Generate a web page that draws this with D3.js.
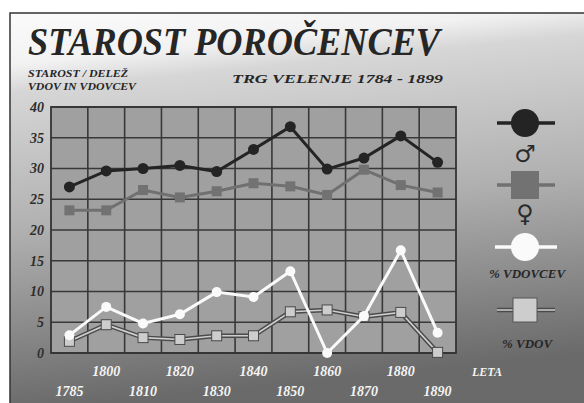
<!DOCTYPE html>
<html>
<head>
<meta charset="utf-8">
<script src="https://cdn.jsdelivr.net/npm/d3@7"></script>
<style>
  html, body { margin: 0; padding: 0; background: #fff; }
  svg { display: block; }
  .ser { font-family: "Liberation Serif", "DejaVu Serif", serif; font-style: italic; font-weight: bold; }
</style>
</head>
<body>
<div id="chart"></div>
<script>
// leta (years) on the x axis
const years = ["1785", "1800", "1810", "1820", "1830", "1840", "1850", "1860", "1870", "1880", "1890"];
// starost - moski
const ageMen = [27, 29.6, 30, 30.5, 29.5, 33.1, 36.8, 29.9, 31.7, 35.3, 31];
// starost - zenske
const ageWomen = [23.2, 23.2, 26.5, 25.3, 26.3, 27.6, 27.1, 25.7, 29.8, 27.3, 26.1];
// % vdovcev
const pctWidowers = [2.9, 7.5, 4.8, 6.3, 9.9, 9.1, 13.3, 0, 6.0, 16.7, 3.3];
// % vdov
const pctWidows = [1.9, 4.6, 2.5, 2.2, 2.8, 2.8, 6.7, 7.0, 5.9, 6.6, 0.1];
const yTicks = [0, 5, 10, 15, 20, 25, 30, 35, 40];

const W = 584, H = 403;

const svg = d3.select("#chart").append("svg")
  .attr("width", W).attr("height", H);

const defs = svg.append("defs");
const bg = defs.append("linearGradient").attr("id", "bg")
  .attr("x1", 0).attr("y1", 0).attr("x2", 0.15).attr("y2", 1);
bg.append("stop").attr("offset", "0").attr("stop-color", "#fbfbfb");
bg.append("stop").attr("offset", "0.13").attr("stop-color", "#f2f2f2");
bg.append("stop").attr("offset", "0.2").attr("stop-color", "#d6d6d6");
bg.append("stop").attr("offset", "0.55").attr("stop-color", "#b0b0b0");
bg.append("stop").attr("offset", "1").attr("stop-color", "#6a6a6a");

// frame
svg.append("rect")
  .attr("x", 10).attr("y", 13).attr("width", W - 10).attr("height", H - 13)
  .attr("fill", "url(#bg)");
svg.append("path")
  .attr("d", `M10,${H} V13 H${W}`)
  .attr("fill", "none").attr("stroke", "#333").attr("stroke-width", 1.5);

// titles
svg.append("text").attr("class", "ser")
  .attr("x", 28).attr("y", 55)
  .attr("textLength", 412).attr("lengthAdjust", "spacingAndGlyphs")
  .attr("font-size", 40)
  .attr("fill", "#262626")
  .text("STAROST POROČENCEV");

svg.append("text").attr("class", "ser")
  .attr("x", 28).attr("y", 77)
  .attr("textLength", 100).attr("lengthAdjust", "spacingAndGlyphs")
  .attr("font-size", 10)
  .attr("fill", "#262626")
  .text("STAROST / DELEŽ");
svg.append("text").attr("class", "ser")
  .attr("x", 28).attr("y", 90)
  .attr("textLength", 108).attr("lengthAdjust", "spacingAndGlyphs")
  .attr("font-size", 10)
  .attr("fill", "#262626")
  .text("VDOV IN VDOVCEV");
svg.append("text").attr("class", "ser")
  .attr("x", 232).attr("y", 83)
  .attr("textLength", 211).attr("lengthAdjust", "spacingAndGlyphs")
  .attr("font-size", 13)
  .attr("fill", "#262626")
  .text("TRG VELENJE 1784 - 1899");

// plot area
const plot = {left: 51, top: 107, right: 456, bottom: 353};

const x = d3.scaleBand()
  .domain(years)
  .range([plot.left, plot.right]);
const y = d3.scaleLinear()
  .domain([0, 40])
  .range([plot.bottom, plot.top]);

svg.append("rect")
  .attr("x", plot.left).attr("y", plot.top)
  .attr("width", plot.right - plot.left).attr("height", plot.bottom - plot.top)
  .attr("fill", "#a0a0a0");

const grid = svg.append("g");
grid.selectAll("line.h")
  .data(yTicks)
  .join("line")
  .attr("class", "h")
  .attr("x1", plot.left).attr("x2", plot.right)
  .attr("y1", d => y(d)).attr("y2", d => y(d))
  .attr("stroke", "#383838").attr("stroke-width", 1.6);
grid.selectAll("line.v")
  .data(years.slice(1))
  .join("line")
  .attr("class", "v")
  .attr("x1", d => x(d)).attr("x2", d => x(d))
  .attr("y1", plot.top).attr("y2", plot.bottom)
  .attr("stroke", "#383838").attr("stroke-width", 1.6);
svg.append("rect")
  .attr("x", plot.left).attr("y", plot.top)
  .attr("width", plot.right - plot.left).attr("height", plot.bottom - plot.top)
  .attr("fill", "none").attr("stroke", "#333").attr("stroke-width", 1.8);

// y axis labels
const yAxis = d3.axisLeft(y).tickValues(yTicks).tickSize(0).tickPadding(7);
const yg = svg.append("g")
  .attr("transform", `translate(${plot.left},0)`)
  .call(yAxis);
yg.select(".domain").remove();
yg.selectAll("text")
  .attr("class", "ser")
  .attr("font-size", 14)
  .attr("fill", "#2e2e2e");

// x axis labels, two staggered rows
const xAxis = d3.axisBottom(x).tickSize(0).tickPadding(0);
const xg = svg.append("g")
  .attr("transform", `translate(0,${plot.bottom})`)
  .call(xAxis);
xg.select(".domain").remove();
xg.selectAll("text")
  .attr("class", "ser")
  .attr("dy", null)
  .attr("y", (d, i) => i % 2 === 0 ? 43 : 23)
  .attr("font-size", 14)
  .attr("fill", "#f4f4f4");

svg.append("text").attr("class", "ser")
  .attr("x", 472).attr("y", 376)
  .attr("font-size", 12)
  .attr("fill", "#f4f4f4")
  .text("LETA");

const cx = d => x(d) + x.bandwidth() / 2;
const line = vals => d3.line()
  .x((d, i) => cx(years[i]))
  .y(d => y(d))(vals);

// % vdov - double line
svg.append("path").attr("d", line(pctWidows))
  .attr("fill", "none").attr("stroke", "#4a4a4a").attr("stroke-width", 4.5);
svg.append("path").attr("d", line(pctWidows))
  .attr("fill", "none").attr("stroke", "#cfcfcf").attr("stroke-width", 1.6);
svg.append("g").selectAll("rect")
  .data(pctWidows)
  .join("rect")
  .attr("x", (d, i) => cx(years[i]) - 5).attr("y", d => y(d) - 5)
  .attr("width", 10).attr("height", 10)
  .attr("fill", "#cdcdcd").attr("stroke", "#4a4a4a").attr("stroke-width", 1);

// % vdovcev - white
svg.append("path").attr("d", line(pctWidowers))
  .attr("fill", "none").attr("stroke", "#fafafa").attr("stroke-width", 3);
svg.append("g").selectAll("circle")
  .data(pctWidowers)
  .join("circle")
  .attr("cx", (d, i) => cx(years[i])).attr("cy", d => y(d))
  .attr("r", 5).attr("fill", "#fafafa");

// zenske - gray
svg.append("path").attr("d", line(ageWomen))
  .attr("fill", "none").attr("stroke", "#707070").attr("stroke-width", 3);
svg.append("g").selectAll("rect")
  .data(ageWomen)
  .join("rect")
  .attr("x", (d, i) => cx(years[i]) - 5).attr("y", d => y(d) - 5)
  .attr("width", 10).attr("height", 10)
  .attr("fill", "#727272");

// moski - black
svg.append("path").attr("d", line(ageMen))
  .attr("fill", "none").attr("stroke", "#242424").attr("stroke-width", 3);
svg.append("g").selectAll("circle")
  .data(ageMen)
  .join("circle")
  .attr("cx", (d, i) => cx(years[i])).attr("cy", d => y(d))
  .attr("r", 5.5).attr("fill", "#242424");

// legend
const lg = svg.append("g").attr("transform", "translate(525,0)");
lg.append("line").attr("x1", -28).attr("x2", 30).attr("y1", 123).attr("y2", 123)
  .attr("stroke", "#242424").attr("stroke-width", 3.5);
lg.append("circle").attr("cx", 0).attr("cy", 123).attr("r", 14).attr("fill", "#242424");
lg.append("text").attr("x", 0).attr("y", 162).attr("text-anchor", "middle")
  .attr("font-family", "'DejaVu Sans', sans-serif").attr("font-size", 24)
  .attr("fill", "#2b2b2b").text("♂");

lg.append("line").attr("x1", -28).attr("x2", 30).attr("y1", 185).attr("y2", 185)
  .attr("stroke", "#707070").attr("stroke-width", 3.5);
lg.append("rect").attr("x", -14).attr("y", 171).attr("width", 28).attr("height", 28).attr("fill", "#727272");
lg.append("text").attr("x", 0).attr("y", 222).attr("text-anchor", "middle")
  .attr("font-family", "'DejaVu Sans', sans-serif").attr("font-size", 24)
  .attr("fill", "#2b2b2b").text("♀");

lg.append("line").attr("x1", -30).attr("x2", 32).attr("y1", 247).attr("y2", 247)
  .attr("stroke", "#fafafa").attr("stroke-width", 3.5);
lg.append("circle").attr("cx", 0).attr("cy", 247).attr("r", 14).attr("fill", "#fafafa");
lg.append("text").attr("class", "ser").attr("x", 2).attr("y", 278).attr("text-anchor", "middle")
  .attr("font-size", 13).attr("fill", "#262626").text("% VDOVCEV");

lg.append("line").attr("x1", -28).attr("x2", 30).attr("y1", 310).attr("y2", 310)
  .attr("stroke", "#4a4a4a").attr("stroke-width", 4.5);
lg.append("line").attr("x1", -28).attr("x2", 30).attr("y1", 310).attr("y2", 310)
  .attr("stroke", "#cfcfcf").attr("stroke-width", 1.6);
lg.append("rect").attr("x", -12).attr("y", 298).attr("width", 24).attr("height", 24)
  .attr("fill", "#cdcdcd").attr("stroke", "#555").attr("stroke-width", 1);
lg.append("text").attr("class", "ser").attr("x", 2).attr("y", 348).attr("text-anchor", "middle")
  .attr("font-size", 13).attr("fill", "#262626").text("% VDOV");
</script>
</body>
</html>
